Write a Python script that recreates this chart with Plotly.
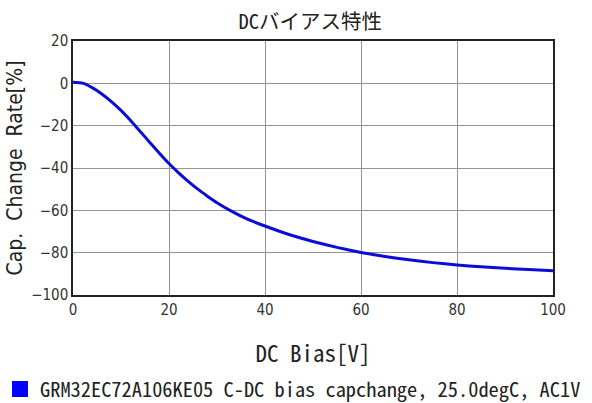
import plotly.graph_objects as go

# Data
bias_v = [0, 2, 4, 6, 8, 10, 12, 14, 16, 18, 20, 22, 24, 26, 28, 30, 33, 36,
          40, 45, 50, 55, 60, 65, 70, 75, 80, 85, 90, 95, 100]
cap_change = [0.5, 0.1, -2.0, -5.0, -8.6, -12.8, -17.6, -22.7, -27.9, -33.0,
              -37.9, -42.3, -46.3, -50.0, -53.3, -56.4, -60.4, -63.8, -67.4,
              -71.4, -74.7, -77.5, -79.9, -81.8, -83.4, -84.7, -85.8, -86.7,
              -87.4, -88.0, -88.5]
series_name = "GRM32EC72A106KE05 C-DC bias capchange, 25.0degC, AC1V"
x_ticks = [0, 20, 40, 60, 80, 100]
y_ticks = [20, 0, -20, -40, -60, -80, -100]

MONO = "Noto Sans Mono CJK JP, Noto Sans CJK JP, DejaVu Sans Mono, monospace"
NARROW = "DejaVu Sans Condensed, Liberation Sans Narrow, Liberation Sans, Arial, sans-serif"

fig = go.Figure()
fig.add_trace(go.Scatter(
    x=bias_v, y=cap_change, mode="lines",
    line=dict(color="#0c0cd8", width=3, shape="spline", smoothing=0.4),
    showlegend=False, hoverinfo="x+y",
))
fig.add_trace(go.Scatter(
    x=[None], y=[None], mode="markers", name=series_name,
    marker=dict(symbol="square", size=16, color="#0000ff"),
    showlegend=True,
))

axis_common = dict(
    showline=True, linecolor="#222222", linewidth=1.5, mirror=True,
    showgrid=True, gridcolor="#959595", gridwidth=1,
    zeroline=False, ticks="", automargin=False,
    tickfont=dict(family=NARROW, size=15, color="#333333"),
)

fig.update_layout(
    width=592, height=403,
    paper_bgcolor="white", plot_bgcolor="white",
    margin=dict(l=73, r=39, t=41, b=108),
    title=dict(text="DCバイアス特性", x=0.524, xanchor="center", y=0.947,
               yanchor="middle", yref="container",
               font=dict(family=MONO, size=20.5, color="#222222")),
    xaxis=dict(range=[0, 100], tickvals=x_ticks, **axis_common,
               title=dict(text="DC Bias[V]", standoff=28,
                          font=dict(family=MONO, size=23, color="#222222"))),
    yaxis=dict(range=[-100, 20], tickvals=y_ticks, **axis_common,
               title=dict(text="Cap.  Change  Rate[%]", standoff=3,
                          font=dict(family=NARROW, size=21, color="#222222"))),
    legend=dict(x=-0.037, xref="container", y=0.034, yref="container",
                xanchor="left", yanchor="middle", orientation="h",
                itemsizing="trace", itemwidth=30,
                font=dict(family=MONO, size=20.4, color="#222222"),
                bgcolor="rgba(0,0,0,0)"),
)

fig.write_html(
    "out.html",
    config={"displayModeBar": False},
    post_script="document.body.style.margin='0';document.body.style.overflow='hidden';",
)
